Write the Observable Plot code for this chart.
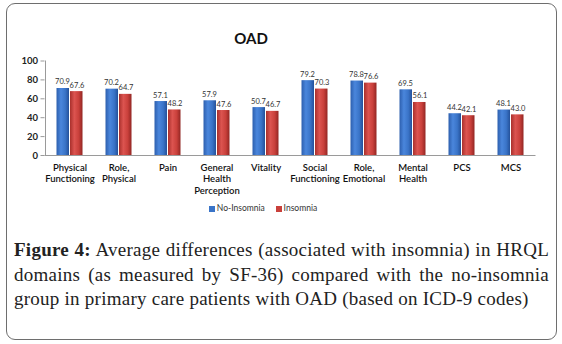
<!DOCTYPE html>
<html>
<head>
<meta charset="utf-8">
<script src="https://cdn.jsdelivr.net/npm/d3@7"></script>
<script src="https://cdn.jsdelivr.net/npm/@observablehq/plot@0.6"></script>
<style>
  html, body { margin: 0; padding: 0; background: #fff; }
  #page { position: relative; width: 562px; height: 344px; overflow: hidden; background: #fff; }
  #frame { position: absolute; left: 6px; top: 3px; width: 549px; height: 335px; border: 1px solid #6e6e6e; border-radius: 9px; }
  #chart { position: absolute; left: 0; top: 0; }
  #title { position: absolute; left: 201px; width: 100px; top: 29px; text-align: center; font: bold 15px Lato, sans-serif; color: #111; }
  #legend { position: absolute; left: 200px; width: 126px; top: 203px; text-align: center; font: 8.5px Lato, sans-serif; color: #333; white-space: nowrap; }
  #legend .sw { display: inline-block; width: 6px; height: 6px; margin-right: 2px; vertical-align: -0.5px; }
  #caption { position: absolute; left: 14px; width: 535px; top: 238px; font: 19px "Liberation Serif", serif; letter-spacing: 0.25px; line-height: 24.5px; color: #222; }
  #caption div { white-space: nowrap; }
  #caption .j { text-align: justify; text-align-last: justify; white-space: normal; }
  #caption b { font-weight: bold; }
</style>
</head>
<body>
<div id="page">
  <div id="frame"></div>
  <div id="chart"></div>
  <div id="title">OAD</div>
  <div id="legend"><span class="sw" style="background:#3a74c8"></span>No-Insomnia&nbsp;&nbsp;&nbsp;&nbsp;&nbsp;<span class="sw" style="background:#c9403b"></span>Insomnia</div>
  <div id="caption">
    <div class="j"><b>Figure 4:</b> Average differences (associated with insomnia) in HRQL</div>
    <div class="j">domains (as measured by SF-36) compared with the no-insomnia</div>
    <div>group in primary care patients with OAD (based on ICD-9 codes)</div>
  </div>
</div>
<script>
const categories = ["Physical Functioning", "Role, Physical", "Pain", "General Health Perception", "Vitality", "Social Functioning", "Role, Emotional", "Mental Health", "PCS", "MCS"];
const categoryLabels = ["Physical\nFunctioning", "Role,\nPhysical", "Pain", "General\nHealth\nPerception", "Vitality", "Social\nFunctioning", "Role,\nEmotional", "Mental\nHealth", "PCS", "MCS"];
const noInsomnia = [70.9, 70.2, 57.1, 57.9, 50.7, 79.2, 78.8, 69.5, 44.2, 48.1];
const insomnia = [67.6, 64.7, 48.2, 47.6, 46.7, 70.3, 76.6, 56.1, 42.1, 43.0];
const yTicks = [0, 20, 40, 60, 80, 100];

const blueData = categories.map((c, i) => ({cat: c, value: noInsomnia[i]}));
const redData = categories.map((c, i) => ({cat: c, value: insomnia[i]}));
const labelOf = new Map(categories.map((c, i) => [c, categoryLabels[i]]));

const chart = Plot.plot({
  width: 562,
  height: 225,
  marginTop: 60.5,
  marginBottom: 70,
  marginLeft: 44.5,
  marginRight: 26.5,
  style: {background: "transparent", fontFamily: "Lato, sans-serif"},
  x: {domain: categories, padding: 0, label: null},
  y: {domain: [0, 100], label: null},
  marks: [
    Plot.ruleX([categories[0]], {y1: 0, y2: 100, dx: -24.5, stroke: "#9a9a9a"}),
    Plot.axisY({ticks: yTicks, tickSize: 4, tickPadding: 3, fontSize: 9.5, fontWeight: "bold", stroke: "#9a9a9a", fill: "#222", label: null}),
    Plot.axisX({tickSize: 0, tickPadding: 7, fontSize: 9.5, lineHeight: 1.22, tickFormat: d => labelOf.get(d), fill: "#111", fontWeight: "600", label: null}),
    Plot.barY(blueData, {x: "cat", y: "value", insetLeft: 11.5, insetRight: 25, fill: "url(#gBlue)"}),
    Plot.barY(redData, {x: "cat", y: "value", insetLeft: 25, insetRight: 11.5, fill: "url(#gRed)"}),
    Plot.ruleY([0], {stroke: "#9a9a9a"}),
    Plot.text(blueData, {x: "cat", y: "value", text: d => d.value.toFixed(1), dx: -7.5, dy: -4, lineAnchor: "bottom", fontSize: 7.5, fill: "#333"}),
    Plot.text(redData, {x: "cat", y: "value", text: d => d.value.toFixed(1), dx: 7, dy: -4, lineAnchor: "bottom", fontSize: 7.5, fill: "#333"})
  ]
});

const svgNS = "http://www.w3.org/2000/svg";
const defs = document.createElementNS(svgNS, "defs");
function grad(id, stops) {
  const g = document.createElementNS(svgNS, "linearGradient");
  g.setAttribute("id", id);
  g.setAttribute("x1", "0"); g.setAttribute("y1", "0");
  g.setAttribute("x2", "1"); g.setAttribute("y2", "0");
  stops.forEach(([o, c]) => {
    const s = document.createElementNS(svgNS, "stop");
    s.setAttribute("offset", o);
    s.setAttribute("stop-color", c);
    g.appendChild(s);
  });
  defs.appendChild(g);
}
grad("gBlue", [["0", "#2d5fae"], ["0.35", "#4a86dc"], ["0.7", "#3a74c8"], ["1", "#24519a"]]);
grad("gRed", [["0", "#a9302c"], ["0.35", "#dc5450"], ["0.7", "#c9403b"], ["1", "#922623"]]);
chart.insertBefore(defs, chart.firstChild);
document.getElementById("chart").appendChild(chart);
</script>
</body>
</html>
